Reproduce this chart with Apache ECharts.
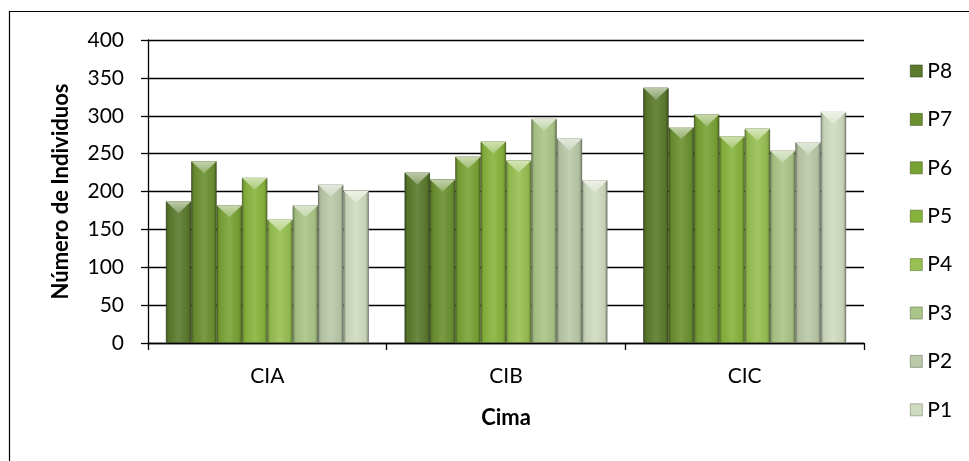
<!DOCTYPE html>
<html>
<head>
<meta charset="utf-8">
<script src="https://cdn.jsdelivr.net/npm/echarts@6/dist/echarts.min.js"></script>
<style>
  html, body { margin: 0; padding: 0; background: #fff; }
  #chart { width: 969px; height: 461px; }
</style>
</head>
<body>
<div id="chart"></div>
<script>
// Number of individuals per summit (CIA, CIB, CIC) for plots P8..P1
const categories = ['CIA', 'CIB', 'CIC'];
const seriesNames = ['P8', 'P7', 'P6', 'P5', 'P4', 'P3', 'P2', 'P1'];
const P8 = [187, 225, 337];
const P7 = [240, 216, 285];
const P6 = [182, 246, 302];
const P5 = [218, 266, 273];
const P4 = [163, 241, 283];
const P3 = [182, 296, 254];
const P2 = [209, 270, 265];
const P1 = [201, 215, 305];
const seriesValues = [P8, P7, P6, P5, P4, P3, P2, P1];
const yTicks = [0, 50, 100, 150, 200, 250, 300, 350, 400];

const baseColors = ['#5b7a2c', '#6a902f', '#79a235', '#87b33c', '#98c052', '#a9c587', '#bac9a8', '#cfdbbf'];

function shade(hex, f) {
  const n = parseInt(hex.slice(1), 16);
  let r = n >> 16, g = (n >> 8) & 255, b = n & 255;
  if (f >= 0) { r += (255 - r) * f; g += (255 - g) * f; b += (255 - b) * f; }
  else { r *= 1 + f; g *= 1 + f; b *= 1 + f; }
  return 'rgb(' + Math.round(r) + ',' + Math.round(g) + ',' + Math.round(b) + ')';
}

function bodyGradient(c) {
  return new echarts.graphic.LinearGradient(0, 0, 1, 0, [
    { offset: 0, color: shade(c, -0.3) },
    { offset: 0.12, color: shade(c, -0.05) },
    { offset: 0.5, color: shade(c, 0.1) },
    { offset: 0.88, color: shade(c, -0.05) },
    { offset: 1, color: shade(c, -0.35) }
  ]);
}

const FONT = 'Lato, "Open Sans", sans-serif';
const series = [];

seriesNames.forEach((name, i) => {
  series.push({
    name: name,
    type: 'bar',
    data: seriesValues[i],
    barGap: '0%',
    barCategoryGap: '15%',
    itemStyle: {
      color: bodyGradient(baseColors[i]),
      borderColor: shade(baseColors[i], -0.5),
      borderWidth: 0.8
    },
    z: 2
  });
});

// bevelled top facet of each column
seriesNames.forEach((name, i) => {
  series.push({
    name: name + ' bevel',
    type: 'pictorialBar',
    data: seriesValues[i],
    barGap: '0%',
    barCategoryGap: '15%',
    symbol: 'path://M0,0L20,0L10,10Z',
    symbolSize: ['100%', 12],
    symbolPosition: 'end',
    symbolKeepAspect: false,
    silent: true,
    itemStyle: {
      color: new echarts.graphic.LinearGradient(0, 0, 0, 1, [
        { offset: 0, color: shade(baseColors[i], 0.6) },
        { offset: 1, color: shade(baseColors[i], 0.3) }
      ])
    },
    z: 3
  });
});

const chart = echarts.init(document.getElementById('chart'), null, { renderer: 'canvas' });
chart.setOption({
  backgroundColor: '#ffffff',
  animation: false,
  graphic: [{
    type: 'rect',
    shape: { x: 9.5, y: 11.5, width: 1000, height: 500 },
    style: { fill: 'none', stroke: '#000', lineWidth: 1.2 },
    silent: true
  }],
  grid: { left: 148, right: 105, top: 40, bottom: 118 },
  legend: {
    data: seriesNames.map((n, i) => ({ name: n, itemStyle: { color: baseColors[i], borderColor: shade(baseColors[i], -0.4), borderWidth: 0.6 } })),
    orient: 'vertical',
    left: 905,
    top: 55,
    itemWidth: 12,
    itemHeight: 12,
    itemGap: 26.4,
    icon: 'rect',
    textStyle: { fontFamily: FONT, fontSize: 21, lineHeight: 22, color: '#000' },
    selectedMode: false
  },
  xAxis: {
    type: 'category',
    data: categories,
    name: 'Cima',
    nameLocation: 'middle',
    nameGap: 64,
    nameTextStyle: { fontFamily: FONT, fontSize: 22, fontWeight: 'bold', color: '#000' },
    axisLine: { lineStyle: { color: '#000', width: 1.3 } },
    axisTick: { show: true, length: 7, lineStyle: { color: '#000', width: 1.3 } },
    axisLabel: { fontFamily: FONT, fontSize: 21, color: '#000', margin: 23 }
  },
  yAxis: {
    type: 'value',
    min: 0,
    max: 400,
    interval: 50,
    name: 'Número de Individuos',
    nameLocation: 'middle',
    nameGap: 76,
    nameTextStyle: { fontFamily: FONT, fontSize: 22, fontWeight: 'bold', color: '#000' },
    axisLine: { show: true, lineStyle: { color: '#000', width: 1.3 } },
    axisTick: { show: true, length: 7, lineStyle: { color: '#000', width: 1.3 } },
    axisLabel: {
      fontFamily: FONT, fontSize: 21, color: '#000', margin: 24,
      formatter: v => (yTicks.indexOf(v) >= 0 ? String(v) : '')
    },
    splitLine: { lineStyle: { color: '#000', width: 1.3 } }
  },
  series: series
});
</script>
</body>
</html>
